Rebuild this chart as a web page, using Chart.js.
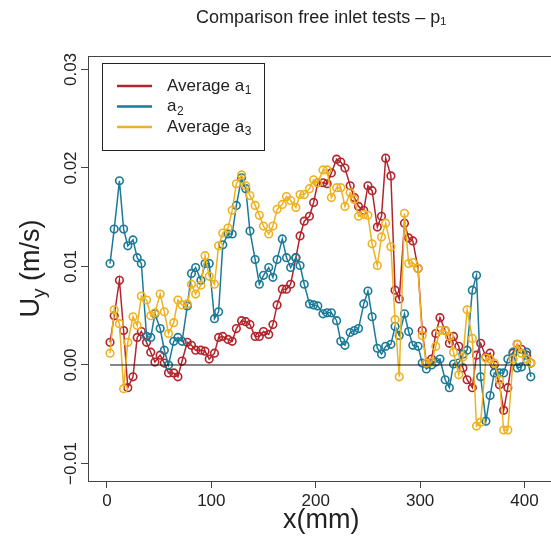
<!DOCTYPE html>
<html>
<head>
<meta charset="UTF-8">
<title>Comparison free inlet tests</title>
<script src="https://cdn.jsdelivr.net/npm/chart.js"></script>
<style>
  html, body { margin: 0; padding: 0; background: #fff; overflow: hidden; }
  #wrap { width: 560px; height: 545px; }
</style>
</head>
<body>
<div id="wrap"><canvas id="chart" width="560" height="545"></canvas></div>
<script>
// positions along the inlet (mm)
const xPos = [3, 7, 12, 16, 20, 25, 29, 33, 38, 42, 46, 51, 55, 59, 64, 68, 72, 77, 81, 85,
  90, 94, 98, 103, 107, 111, 116, 120, 124, 129, 133, 137, 142, 146, 150, 155, 159, 163, 168, 172,
  176, 181, 185, 189, 194, 198, 202, 207, 211, 215, 220, 224, 228, 233, 237, 241, 246, 250, 254, 259,
  263, 267, 272, 276, 280, 285, 289, 293, 298, 302, 306, 311, 315, 319, 324, 328, 332, 337, 341, 345,
  350, 354, 358, 363, 367, 371, 376, 380, 384, 389, 393, 397, 402, 406];

// Uy (m/s)
const avgA1 = [0.0023, 0.0050, 0.0086, 0.0035, -0.0023, -0.0012, 0.0028, 0.0034, 0.0023, 0.0013,
  0.0003, 0.0010, 0.0002, -0.0008, -0.0008, -0.0012, 0.0004, 0.0023, 0.0020, 0.0015,
  0.0015, 0.0014, 0.0006, 0.0012, 0.0028, 0.0029, 0.0026, 0.0024, 0.0037, 0.0045,
  0.0044, 0.0041, 0.0029, 0.0029, 0.0034, 0.0031, 0.0041, 0.0061, 0.0077, 0.0077,
  0.0082, 0.0109, 0.0131, 0.0146, 0.0151, 0.0165, 0.0185, 0.0185, 0.0184, 0.0195,
  0.0209, 0.0206, 0.0200, 0.0182, 0.0170, 0.0161, 0.0157, 0.0182, 0.0177, 0.0140,
  0.0151, 0.0210, 0.0192, 0.0076, 0.0067, 0.0144, 0.0129, 0.0126, 0.0098, 0.0035,
  0.0002, 0.0006, 0.0032, 0.0048, 0.0035, 0.0022, 0.0029, 0.0019, -0.0003, -0.0015,
  -0.0023, 0.0010, 0.0022, 0.0008, 0.0012, 0.0000, -0.0020, -0.0046, -0.0023, 0.0012,
  0.0021, 0.0016, 0.0010, 0.0002];

const a2 = [0.0103, 0.0138, 0.0187, 0.0138, 0.0121, 0.0127, 0.0109, 0.0103, 0.0029, 0.0028,
  0.0052, 0.0037, 0.0015, 0.0000, 0.0024, 0.0028, 0.0024, 0.0060, 0.0093, 0.0099,
  0.0086, 0.0103, 0.0103, 0.0047, 0.0054, 0.0122, 0.0133, 0.0133, 0.0162, 0.0190,
  0.0179, 0.0136, 0.0107, 0.0082, 0.0091, 0.0099, 0.0089, 0.0107, 0.0128, 0.0109,
  0.0099, 0.0109, 0.0101, 0.0082, 0.0062, 0.0061, 0.0060, 0.0052, 0.0053, 0.0053,
  0.0045, 0.0024, 0.0020, 0.0033, 0.0035, 0.0037, 0.0062, 0.0075, 0.0049, 0.0017,
  0.0011, 0.0019, 0.0021, 0.0039, 0.0030, 0.0052, 0.0034, 0.0020, 0.0019, 0.0002,
  -0.0004, 0.0000, 0.0003, 0.0006, -0.0015, -0.0023, 0.0001, 0.0002, 0.0011, 0.0015,
  0.0076, 0.0091, -0.0012, -0.0057, -0.0031, -0.0008, -0.0008, -0.0008, 0.0006, 0.0013,
  -0.0003, -0.0002, 0.0013, -0.0012];

const avgA3 = [0.0012, 0.0056, 0.0042, -0.0024, 0.0023, 0.0049, 0.0040, 0.0070, 0.0066, 0.0050,
  0.0053, 0.0072, 0.0054, 0.0032, 0.0043, 0.0066, 0.0061, 0.0062, 0.0082, 0.0072,
  0.0081, 0.0111, 0.0090, 0.0082, 0.0121, 0.0134, 0.0139, 0.0157, 0.0184, 0.0193,
  0.0182, 0.0172, 0.0162, 0.0152, 0.0141, 0.0133, 0.0141, 0.0158, 0.0163, 0.0171,
  0.0167, 0.0160, 0.0173, 0.0173, 0.0179, 0.0188, 0.0185, 0.0198, 0.0198, 0.0170,
  0.0180, 0.0180, 0.0161, 0.0175, 0.0168, 0.0151, 0.0153, 0.0152, 0.0123, 0.0101,
  0.0130, 0.0144, 0.0120, 0.0046, -0.0012, 0.0154, 0.0103, 0.0104, 0.0098, 0.0030,
  0.0002, 0.0003, 0.0019, 0.0035, 0.0035, 0.0029, 0.0013, -0.0010, 0.0008, 0.0056,
  0.0027, -0.0062, -0.0058, 0.0007, 0.0006, 0.0002, -0.0015, -0.0066, -0.0066, 0.0006,
  0.0021, 0.0012, 0.0006, 0.0002];

const xTicks = [0, 100, 200, 300, 400];
const yTicks = [-0.01, 0, 0.01, 0.02, 0.03];
const yTickLabels = ['\u22120.01', '0.00', '0.01', '0.02', '0.03'];

const FONT = '"Liberation Sans", Arial, Helvetica, sans-serif';
const RED = '#B3252D', BLUE = '#1B7A98', GOLD = '#EEB220';

Chart.defaults.font.family = FONT;
Chart.defaults.color = '#222';

function series(label, values, color, order) {
  return {
    label: label,
    data: xPos.map((x, i) => ({ x: x, y: values[i] })),
    borderColor: color,
    borderWidth: 1.5,
    pointRadius: 3.8,
    pointBorderWidth: 1.6,
    pointBorderColor: color,
    pointBackgroundColor: 'rgba(0,0,0,0)',
    tension: 0,
    order: order
  };
}

// box, rotated y labels, y title and legend, R style
const rFrame = {
  id: 'rFrame',
  afterDraw(chart) {
    const { ctx, chartArea: a } = chart;
    const y = chart.scales.y;
    ctx.save();
    ctx.strokeStyle = '#444';
    ctx.lineWidth = 1;
    ctx.strokeRect(a.left + 0.5, a.top + 0.5, a.right - a.left, a.bottom - a.top);

    ctx.fillStyle = '#222';
    ctx.font = '17px ' + FONT;
    ctx.textAlign = 'center';
    ctx.textBaseline = 'middle';
    yTicks.forEach((v, i) => {
      ctx.save();
      ctx.translate(71, y.getPixelForValue(v));
      ctx.rotate(-Math.PI / 2);
      ctx.fillText(yTickLabels[i], 0, 0);
      ctx.restore();
    });

    // U_y (m/s)
    ctx.save();
    ctx.translate(30, (a.top + a.bottom) / 2);
    ctx.rotate(-Math.PI / 2);
    ctx.textAlign = 'left';
    ctx.textBaseline = 'alphabetic';
    const big = '27px ' + FONT, small = '19px ' + FONT;
    ctx.font = big; const wU = ctx.measureText('U').width, wR = ctx.measureText(' (m/s)').width;
    ctx.font = small; const wy = ctx.measureText('y').width;
    let x0 = -(wU + wy + wR) / 2;
    ctx.font = big; ctx.fillText('U', x0, 9);
    ctx.font = small; ctx.fillText('y', x0 + wU, 15);
    ctx.font = big; ctx.fillText(' (m/s)', x0 + wU + wy, 9);
    ctx.restore();

    // legend
    ctx.strokeStyle = '#222';
    ctx.lineWidth = 1;
    ctx.strokeRect(102.5, 63.5, 162, 87);
    ctx.textAlign = 'left';
    ctx.textBaseline = 'middle';
    let row = 0;
    chart.data.datasets.forEach(ds => {
      if (!ds.label) return;
      const yy = 86 + row * 20.5;
      ctx.strokeStyle = ds.borderColor;
      ctx.lineWidth = 2.5;
      ctx.beginPath(); ctx.moveTo(117, yy); ctx.lineTo(152, yy); ctx.stroke();
      const m = ds.label.match(/^(.*?)([\u2080-\u2089]+)$/);
      const main = m ? m[1] : ds.label;
      const sub = m ? m[2].split('').map(c => String.fromCharCode(c.charCodeAt(0) - 0x2080 + 48)).join('') : '';
      ctx.fillStyle = '#222';
      ctx.font = '17px ' + FONT;
      ctx.fillText(main, 167, yy);
      const w = ctx.measureText(main).width;
      ctx.font = '12px ' + FONT;
      ctx.fillText(sub, 167 + w + 0.5, yy + 5);
      row++;
    });
    ctx.restore();
  }
};

new Chart(document.getElementById('chart'), {
  type: 'line',
  data: {
    datasets: [
      series('Average a\u2081', avgA1, RED, 3),
      series('a\u2082', a2, BLUE, 2),
      series('Average a\u2083', avgA3, GOLD, 1),
      {
        label: '',
        data: [{ x: xPos[0], y: 0 }, { x: xPos[xPos.length - 1], y: 0 }],
        borderColor: '#111',
        borderWidth: 1,
        pointRadius: 0,
        order: 0
      }
    ]
  },
  options: {
    responsive: false,
    animation: false,
    devicePixelRatio: 1,
    layout: { padding: { top: 0, right: 3, left: 0, bottom: 0 } },
    plugins: {
      legend: { display: false },
      tooltip: { enabled: false },
      title: {
        display: true,
        fullSize: false,
        text: 'Comparison free inlet tests \u2013 p\u2081',
        color: '#222',
        font: { size: 18, weight: 'normal' },
        padding: { top: 7, bottom: 27.4 }
      }
    },
    scales: {
      x: {
        type: 'linear',
        min: -18.1,
        max: 428.6,
        afterBuildTicks: s => { s.ticks = xTicks.map(v => ({ value: v })); },
        afterFit: s => { s.height = 64; },
        grid: { drawOnChartArea: false, drawTicks: true, tickLength: 7, color: '#444' },
        border: { display: false },
        ticks: { font: { size: 17 }, padding: 3, maxRotation: 0, autoSkip: false, callback: v => String(v) },
        title: { display: true, text: 'x(mm)', font: { size: 27 }, padding: { top: 0, bottom: 8 } }
      },
      y: {
        type: 'linear',
        min: -0.011777,
        max: 0.03137,
        afterBuildTicks: s => { s.ticks = yTicks.map(v => ({ value: v })); },
        afterFit: s => { s.width = 88; },
        grid: { drawOnChartArea: false, drawTicks: true, tickLength: 7, color: '#444' },
        border: { display: false },
        ticks: { display: false }
      }
    }
  },
  plugins: [rFrame]
});
</script>
</body>
</html>
